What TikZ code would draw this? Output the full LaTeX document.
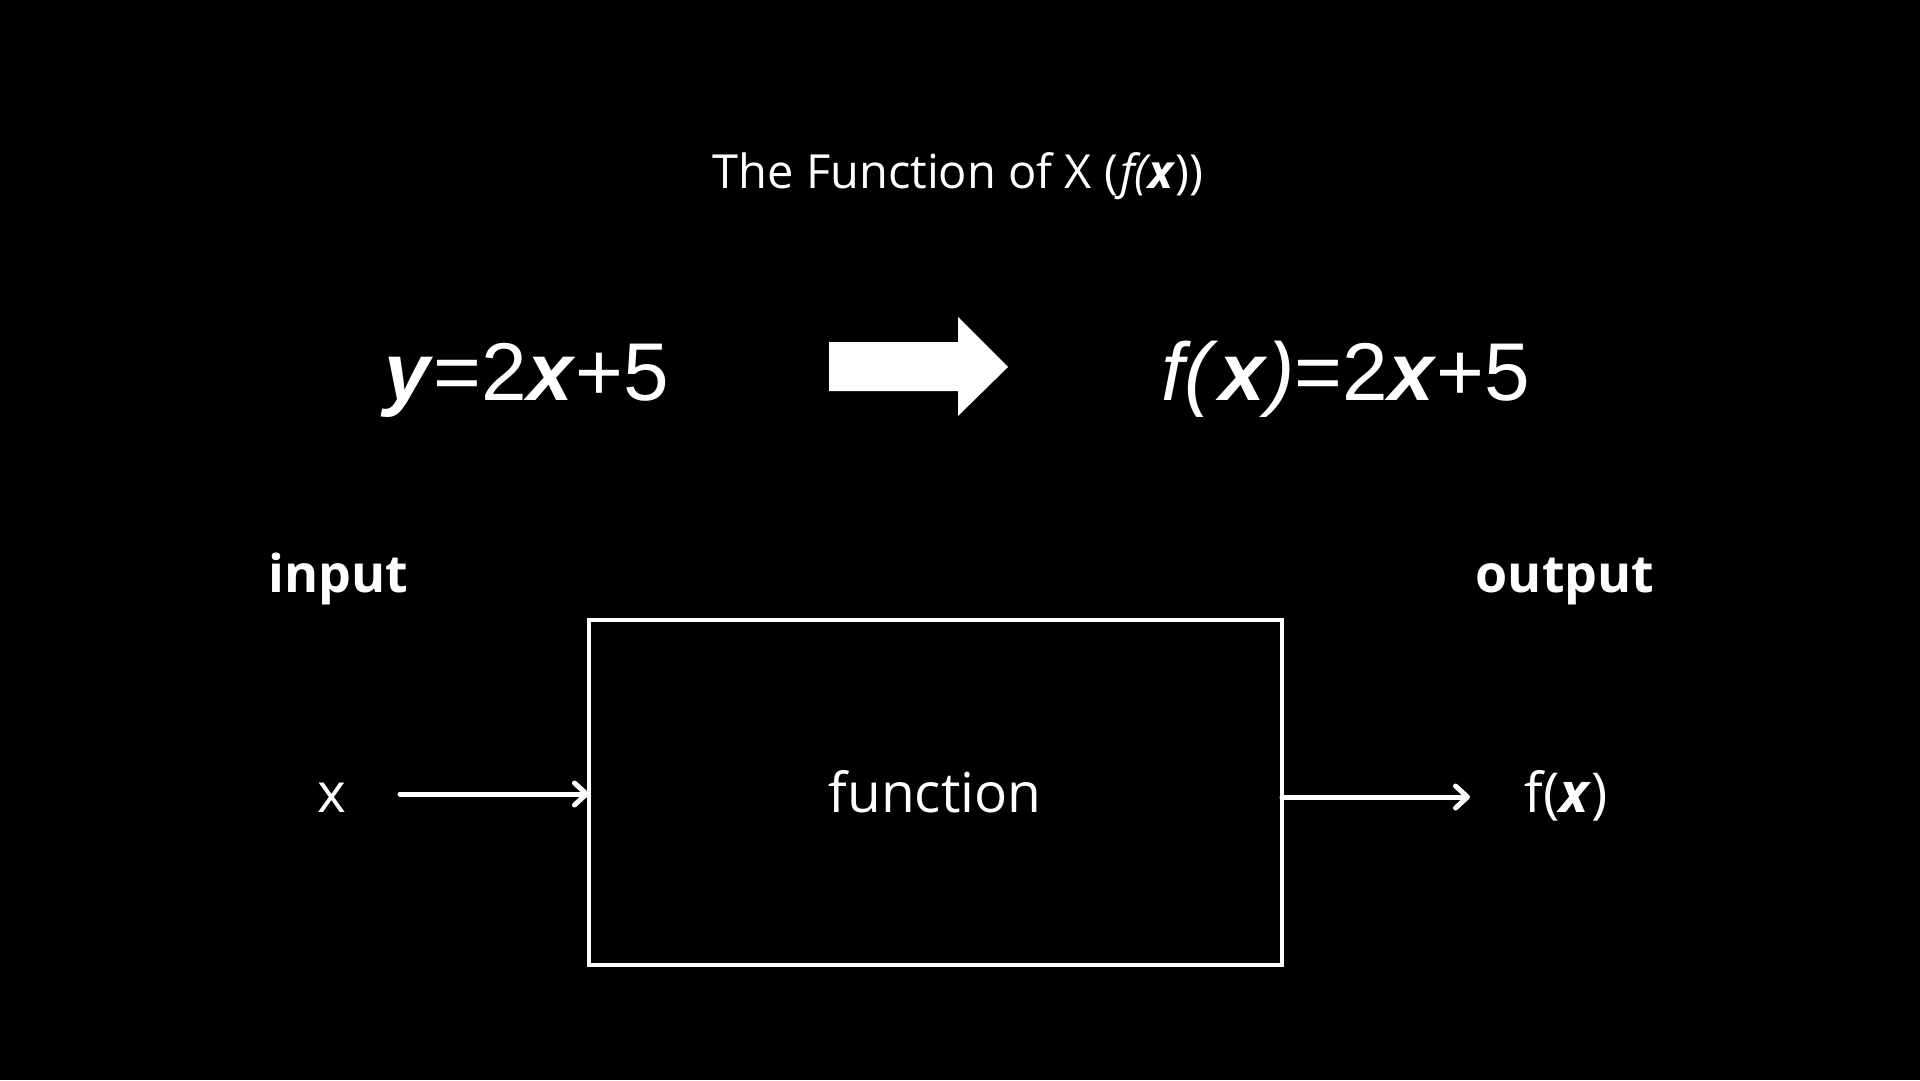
\documentclass[tikz,border=0pt]{standalone}
\usepackage{fontspec}
\setmainfont{Open Sans}
\newfontfamily\eqfont{Liberation Sans}
\usetikzlibrary{arrows.meta}
\begin{document}
\begin{tikzpicture}[x=1pt,y=-1pt,
  every node/.style={text=white,inner sep=0pt,outer sep=0pt},
  titletext/.style={font=\fontsize{47}{52}\selectfont},
  eqtext/.style={font=\eqfont\fontsize{82}{92}\selectfont},
  headtext/.style={font=\fontsize{52}{58}\selectfont\bfseries},
  labeltext/.style={font=\fontsize{55}{60}\selectfont},
  flow/.style={draw=white,line width=5pt,line cap=round,
    -{Straight Barb[length=12pt,width=22pt,line cap=round,line join=round]}},
  fbox/.style={draw=white,line width=3.6pt,minimum width=693pt,minimum height=345pt}]
\useasboundingbox (0,0) rectangle (1920,1080);
\fill[black] (0,0) rectangle (1920,1080);

\node[titletext,anchor=base] (title) at (958,188) {The Function of X (\kern2pt\textit{f(\textbf{x}}))};

\node[eqtext,anchor=base] (eq1) at (527,400) {\textbf{\textit{y}}=2\textbf{\textit{x}}+5};
\node[eqtext,anchor=base] (eq2) at (1346,400) {\textit{f(}\textbf{\textit{x}}\textit{)}=2\textbf{\textit{x}}+5};

\coordinate (ba1) at (829,342);
\coordinate (ba2) at (958,342);
\coordinate (ba3) at (958,317);
\coordinate (ba4) at (1008,367);
\coordinate (ba5) at (958,416);
\coordinate (ba6) at (958,391);
\coordinate (ba7) at (829,391);
\fill[white] (ba1) -- (ba2) -- (ba3) -- (ba4) -- (ba5) -- (ba6) -- (ba7) -- cycle;

\node[headtext,anchor=base] (input) at (338,592) {input};
\node[headtext,anchor=base] (output) at (1565,592) {output};

\node[fbox] (box) at (935.5,792.5) {};
\node[labeltext,anchor=base] (func) at (935,812) {function};

\node[labeltext,anchor=base] (xin) at (332,812) {x};
\node[labeltext,anchor=base] (fout) at (1566,812) {f(\textbf{\textit{x}})};

\coordinate (ain) at (400,794);
\coordinate (aout) at (1470,797);
\draw[flow] (ain) -- (ain -| box.west);
\draw[flow] (aout -| box.east) -- (aout);
\end{tikzpicture}
\end{document}
